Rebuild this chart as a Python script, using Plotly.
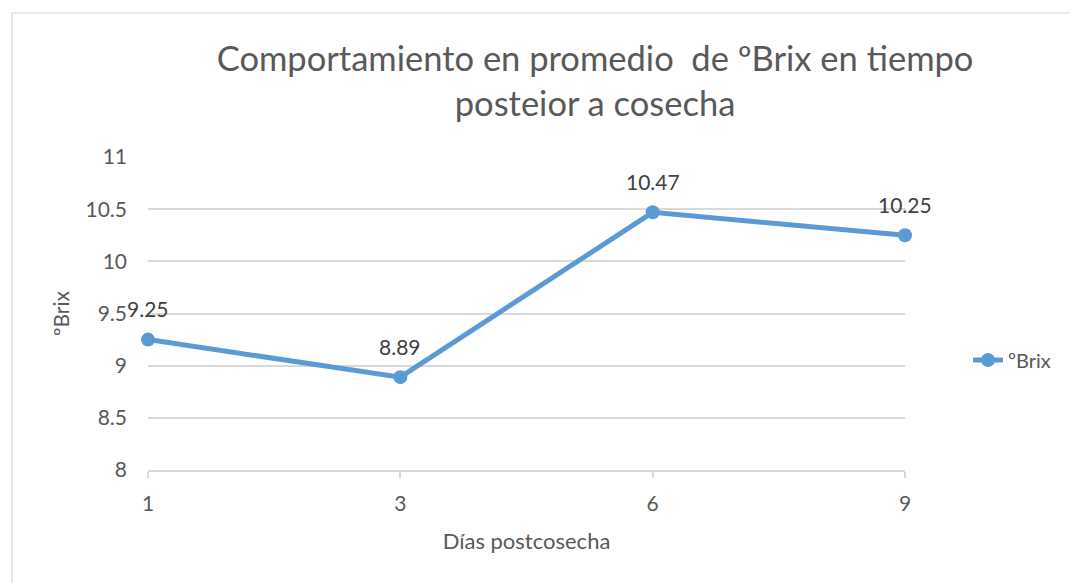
import plotly.graph_objects as go

dias = ["1", "3", "6", "9"]
brix = [9.25, 8.89, 10.47, 10.25]
y_ticks = [8, 8.5, 9, 9.5, 10, 10.5, 11]
y_tick_text = ["8", "8.5", "9", "9.5", "10", "10.5", "11"]

W, H = 1070, 583
L, R, T, B = 148, 165, 157, 113
pw, ph = W - L - R, H - T - B

gray = "#595959"
font = "Lato, 'Open Sans', sans-serif"

fig = go.Figure()
fig.add_trace(go.Scatter(
    x=dias, y=brix, mode="lines+markers", name="ºBrix",
    line=dict(color="#5b9bd5", width=5),
    marker=dict(color="#5b9bd5", size=14),
    cliponaxis=False,
))

annotations = [
    dict(x=i, y=v, xref="x", yref="y", text=f"{v:.2f}", showarrow=False,
         yshift=31, font=dict(family=font, size=21, color="#404040"))
    for i, v in enumerate(brix)
]

def px_x(p):
    return (p - L) / pw

def px_y(p):
    return (H - B - p) / ph

fig.update_layout(
    width=W, height=H,
    margin=dict(l=L, r=R, t=T, b=B, autoexpand=False),
    paper_bgcolor="white", plot_bgcolor="white",
    font=dict(family=font, color=gray, size=21),
    showlegend=True,
    title=dict(
        text="Comportamiento en promedio  de ºBrix en tiempo<br>posteior a cosecha",
        x=px_x(569), xanchor="center", y=1 - 71 / H, yanchor="middle",
        font=dict(family=font, size=34.5, color=gray),
    ),
    xaxis=dict(
        type="category", range=[0, 3],
        showgrid=False, showline=True, linecolor="#d9d9d9", linewidth=1.5,
        ticks="outside", ticklen=6, tickcolor="#d9d9d9", tickwidth=1.5,
        tickfont=dict(size=21, color=gray), ticklabelstandoff=8,
        title=dict(text="Días postcosecha", font=dict(size=22, color=gray), standoff=20),
        zeroline=False,
    ),
    yaxis=dict(
        range=[8, 11], tickvals=y_ticks, ticktext=y_tick_text,
        showgrid=True, gridcolor="#d9d9d9", gridwidth=1.5,
        showline=False, zeroline=False, ticks="",
        tickfont=dict(size=21, color=gray), ticklabelstandoff=20,
        title=dict(text="ºBrix", font=dict(size=21, color=gray), standoff=10),
    ),
    legend=dict(
        x=px_x(968), y=px_y(360), xanchor="left", yanchor="middle",
        font=dict(size=20, color=gray), bgcolor="rgba(0,0,0,0)",
        itemwidth=30,
    ),
    annotations=annotations,
    shapes=[dict(
        type="rect", xref="paper", yref="paper",
        x0=px_x(12), x1=px_x(1100), y0=px_y(620), y1=px_y(13),
        line=dict(color="#d9d9d9", width=1.2), fillcolor="rgba(0,0,0,0)", layer="below",
    )],
)

fig.write_html("out.html", config={"displayModeBar": False},
               post_script="document.body.style.margin='0';")
